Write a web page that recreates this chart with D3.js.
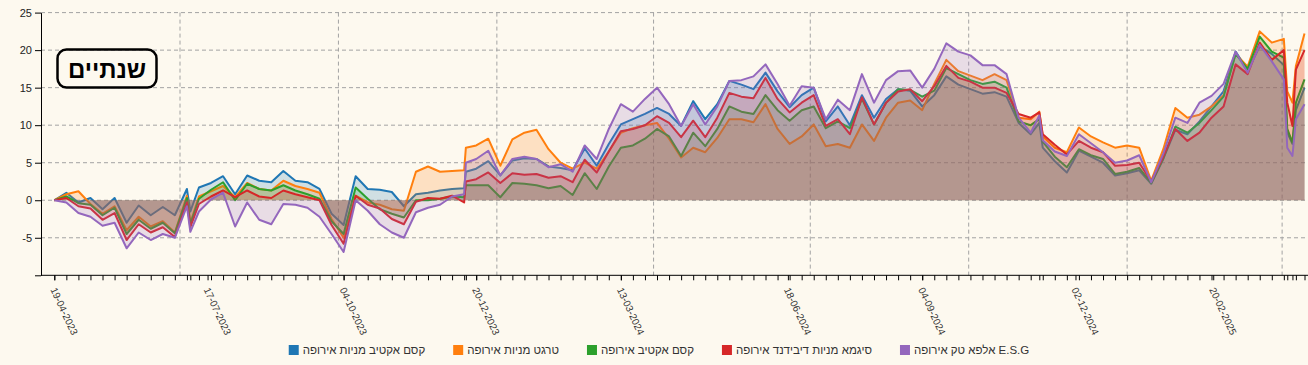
<!DOCTYPE html>
<html><head><meta charset="utf-8">
<script src="https://cdn.jsdelivr.net/npm/d3@7"></script>
<style>
html,body{margin:0;padding:0;background:#fdf9ef;}
svg{display:block;font-family:"Liberation Sans",Arial,sans-serif;}
</style></head><body>
<svg id="chart" width="1308" height="365"></svg>
<script>
const dates = [
"2023-04-19","2023-04-26","2023-05-03","2023-05-10","2023-05-17","2023-05-24","2023-05-31","2023-06-07","2023-06-14","2023-06-21",
"2023-06-28","2023-07-05","2023-07-07","2023-07-12","2023-07-19","2023-07-26","2023-08-02","2023-08-09","2023-08-16","2023-08-23",
"2023-08-30","2023-09-06","2023-09-13","2023-09-20","2023-09-27","2023-10-04","2023-10-11","2023-10-18","2023-10-25","2023-11-01",
"2023-11-08","2023-11-15","2023-11-22","2023-11-29","2023-12-06","2023-12-13","2023-12-14","2023-12-20","2023-12-27","2024-01-03",
"2024-01-10","2024-01-17","2024-01-24","2024-01-31","2024-02-07","2024-02-14","2024-02-21","2024-02-28","2024-03-06","2024-03-13",
"2024-03-20","2024-03-27","2024-04-03","2024-04-10","2024-04-17","2024-04-24","2024-05-01","2024-05-08","2024-05-15","2024-05-22",
"2024-05-29","2024-06-05","2024-06-12","2024-06-19","2024-06-26","2024-07-03","2024-07-10","2024-07-17","2024-07-24","2024-07-31",
"2024-08-07","2024-08-14","2024-08-21","2024-08-28","2024-09-04","2024-09-11","2024-09-18","2024-09-25","2024-10-02","2024-10-09",
"2024-10-16","2024-10-23","2024-10-30","2024-11-06","2024-11-11","2024-11-13","2024-11-20","2024-11-27","2024-12-04","2024-12-11",
"2024-12-18","2024-12-25","2025-01-01","2025-01-08","2025-01-15","2025-01-22","2025-01-29","2025-02-05","2025-02-12","2025-02-19",
"2025-02-26","2025-03-05","2025-03-12","2025-03-19","2025-03-26","2025-04-02","2025-04-04","2025-04-07","2025-04-09","2025-04-14"
];

const seriesNames = ["קסם אקטיב מניות אירופה","טרגט מניות אירופה","קסם אקטיב אירופה","סיגמא מניות דיבידנד אירופה","אלפא טק אירופה E.S.G"];
const seriesColors = ["#1f77b4","#ff7f0e","#2ca02c","#d62728","#9467bd"];

const kasemActiveEquity = [
0,1.0,-0.3,0.3,-1.2,0.3,-3.0,-0.7,-2.0,-0.9,
-2.0,1.5,-1.5,1.7,2.3,3.2,0.8,3.3,2.6,2.4,
3.9,2.6,2.4,1.5,-1.8,-3.3,3.2,1.5,1.4,1.1,
-0.8,0.8,1.0,1.3,1.5,1.6,3.8,4.2,5.2,3.3,
5.3,5.6,5.5,4.5,4.3,4.0,6.9,4.6,7.5,10.1,
10.8,11.5,12.3,11.5,9.9,13.2,10.8,12.8,15.9,15.4,
14.8,17.0,14.5,12.4,14.0,15.0,10.5,12.5,10.0,14.0,
11.0,13.5,14.8,14.6,12.5,14.0,16.5,15.4,14.8,14.2,
14.4,13.8,10.3,8.8,10.3,7.0,5.2,3.7,6.6,5.8,
5.0,3.3,3.6,4.0,2.2,5.5,9.4,8.8,10.5,12.5,
14.5,19.8,17.3,20.5,19.5,18.0,9.0,7.5,12.0,15.0
];
const targetEquity = [
0,0.8,1.2,-0.5,-1.8,-0.8,-4.0,-2.2,-3.5,-2.8,
-4.3,0.6,-3.0,0.5,1.2,1.9,0.4,2.3,1.5,1.3,
2.6,1.9,1.5,1.0,-2.5,-5.0,0.6,-0.3,-0.6,-1.2,
-1.4,3.8,4.5,3.8,3.9,4.0,7.0,7.3,8.2,4.6,
8.1,9.0,9.4,6.8,5.0,4.2,5.0,4.2,6.5,9.0,
9.6,10.0,10.3,8.2,5.7,7.0,6.4,8.3,10.8,10.8,
10.4,12.8,9.5,7.5,8.5,10.1,7.2,7.5,7.0,10.1,
7.9,11.0,13.0,13.3,12.0,15.5,18.7,17.2,16.6,16.0,
16.8,16.0,11.0,10.8,11.8,8.5,7.0,6.4,9.7,8.5,
7.7,7.0,7.3,7.0,2.6,6.8,12.3,11.0,11.4,12.5,
14.0,19.5,17.8,22.5,21.0,21.5,14.5,13.0,17.9,22.2
];
const kasemActive = [
0,0.5,-0.4,-0.6,-2.0,-1.0,-4.5,-2.6,-3.8,-3.0,
-4.4,0.3,-3.2,0.2,1.4,2.4,0.0,2.2,1.5,1.3,
2.0,1.3,0.8,0.2,-2.8,-4.5,1.7,0.2,-1.2,-1.8,
-2.3,0.0,0.0,0.2,0.5,0.4,2.0,2.0,2.0,0.4,
2.3,2.2,2.0,1.6,1.9,0.7,3.6,1.5,4.5,7.0,
7.3,8.2,9.5,8.5,5.9,9.0,7.2,9.5,12.5,11.8,
11.5,14.0,12.0,10.6,12.0,12.5,9.6,10.5,9.6,13.5,
10.1,13.0,14.8,14.7,13.8,14.6,17.6,16.8,16.0,15.5,
15.8,15.0,10.5,10.0,10.8,7.8,5.8,4.4,6.8,6.0,
5.5,3.5,3.8,4.3,2.3,5.6,9.8,9.0,10.3,12.0,
13.8,19.5,17.5,21.8,19.8,19.0,9.5,7.7,13.0,16.1
];
const sigmaDividend = [
0,0.3,-0.8,-1.1,-2.6,-1.7,-5.3,-3.2,-4.3,-3.6,
-4.9,-0.3,-3.6,-0.5,0.5,1.3,0.4,1.3,0.5,0.3,
1.3,0.8,0.4,0.0,-3.3,-5.8,0.6,-0.6,-1.1,-2.5,
-3.2,-0.2,0.3,0.2,0.6,-0.3,2.5,2.8,3.7,2.3,
3.6,3.4,3.5,3.0,3.2,2.4,5.4,3.7,6.5,9.2,
9.5,10.0,11.2,10.3,8.4,10.6,8.4,11.0,14.3,13.8,
13.6,16.3,13.5,11.7,13.0,14.0,9.9,10.8,8.8,13.7,
10.1,13.0,14.5,14.8,13.2,15.2,17.9,16.3,15.8,15.0,
15.0,14.3,11.5,11.0,11.7,8.8,7.4,6.1,7.9,7.0,
6.4,4.6,4.7,5.0,2.5,5.8,9.5,7.9,9.0,11.0,
12.5,18.1,16.8,21.0,18.7,20.0,13.0,9.9,17.4,20.0
];
const alphaTechESG = [
0,-0.3,-1.7,-2.2,-3.4,-3.0,-6.4,-4.3,-5.3,-4.5,
-5.0,-0.8,-4.2,-1.5,0.1,1.0,-3.5,-0.3,-2.6,-3.2,
-0.5,-0.6,-1.0,-2.2,-4.5,-6.9,0.0,-1.4,-3.2,-4.3,
-5.0,-1.6,-1.0,-0.6,0.5,0.8,5.0,5.5,6.6,3.3,
5.5,5.8,5.5,4.4,4.8,3.8,7.3,5.5,9.5,12.8,
11.8,13.5,15.0,12.8,9.9,12.8,10.1,12.5,15.9,16.0,
16.5,18.1,15.5,12.6,15.2,15.0,10.8,13.4,12.0,16.8,
13.0,16.0,17.2,17.3,15.0,17.5,20.9,19.8,19.3,18.0,
18.0,16.8,11.0,9.0,11.3,8.0,6.5,5.9,8.8,7.6,
6.4,5.0,5.3,6.0,2.4,6.2,11.0,10.3,13.0,13.9,
15.5,19.8,17.0,20.7,18.5,16.1,7.0,5.9,10.8,12.8
];

const labelDates = ["2023-04-19","2023-07-17","2023-10-04","2023-12-20","2024-03-13","2024-06-18","2024-09-04","2024-12-02","2025-02-20"];
const yTicks = [-10,-5,0,5,10,15,20,25];
const titleText = "שנתיים";

const allSeries = [kasemActiveEquity, targetEquity, kasemActive, sigmaDividend, alphaTechESG];

const parse = d3.timeParse("%Y-%m-%d");
const fmt = d3.timeFormat("%d-%m-%Y");
const dateObjs = dates.map(parse);

const svg = d3.select("#chart");
const W = 1308, H = 365;
const plotLeft = 41, plotRight = 1308, plotTop = 12.6, plotBottom = 275.3;

const x = d3.scaleTime().domain([dateObjs[0], dateObjs[dateObjs.length-1]]).range([54.3, 1304.5]);
const y = d3.scaleLinear().domain([-10, 25]).range([plotBottom, plotTop]);

// background
svg.append("rect").attr("width", W).attr("height", H).attr("fill", "#fdf9ef");

// grid
const grid = svg.append("g").attr("stroke", "#a3a3a3").attr("stroke-dasharray", "4,3").attr("stroke-width", 1);
yTicks.filter(v => v > -10).forEach(v => {
  grid.append("line").attr("x1", plotLeft).attr("x2", plotRight).attr("y1", y(v)).attr("y2", y(v));
});
x.ticks(d3.timeMonth.every(3)).forEach(d => {
  grid.append("line").attr("x1", x(d)).attr("x2", x(d)).attr("y1", plotTop).attr("y2", plotBottom);
});

// series
allSeries.forEach((vals, i) => {
  const data = vals.map((v, j) => ({d: dateObjs[j], v}));
  const area = d3.area().x(p => x(p.d)).y0(y(0)).y1(p => y(p.v));
  const line = d3.line().x(p => x(p.d)).y(p => y(p.v));
  svg.append("path").datum(data).attr("d", area).attr("fill", seriesColors[i]).attr("fill-opacity", 0.2);
  svg.append("path").datum(data).attr("d", line).attr("fill", "none").attr("stroke", seriesColors[i]).attr("stroke-width", 2).attr("stroke-linejoin", "round");
});

// y axis
const yAxis = d3.axisLeft(y).tickValues(yTicks).tickSize(6).tickSizeOuter(0).tickFormat(d => d === -10 ? "" : String(d));
const gy = svg.append("g").attr("transform", `translate(${plotLeft},0)`).call(yAxis);
gy.selectAll("text").attr("font-size", 11).attr("fill", "#222").attr("font-family", "Liberation Sans, Arial, sans-serif");
gy.select(".domain").attr("stroke", "#000");
gy.selectAll(".tick line").attr("stroke", "#000");

// x axis line
svg.append("line").attr("x1", plotLeft).attr("x2", plotRight).attr("y1", plotBottom).attr("y2", plotBottom).attr("stroke", "#000");
// minor ticks at every data date
const labelObjs = labelDates.map(parse);
const xMinor = d3.axisBottom(x).tickValues(dateObjs.concat(labelObjs)).tickSize(5).tickSizeOuter(0).tickFormat("");
const gx = svg.append("g").attr("transform", `translate(0,${plotBottom})`).call(xMinor);
gx.select(".domain").remove();
gx.selectAll(".tick line").attr("stroke", "#000");
// labels
svg.append("g").selectAll("text").data(labelObjs).join("text")
  .attr("transform", d => `translate(${x(d) - 1},288) rotate(65)`)
  .attr("dy", "0.35em")
  .attr("text-anchor", "start")
  .attr("font-size", 10)
  .attr("fill", "#333")
  .text(d => fmt(d));

// title box
const tb = svg.append("g");
tb.append("rect").attr("x", 57.5).attr("y", 49.5).attr("width", 99).attr("height", 38).attr("rx", 9)
  .attr("fill", "none").attr("stroke", "#000").attr("stroke-width", 2.5);
tb.append("text").attr("x", 107).attr("y", 69).attr("text-anchor", "middle").attr("dominant-baseline", "central")
  .attr("font-size", 24).attr("font-weight", "bold").attr("fill", "#000").text(titleText);

// legend
const lg = svg.append("g");
const items = [];
let cx = 0;
seriesNames.forEach((name, i) => {
  const g = lg.append("g");
  g.append("rect").attr("x", 0).attr("y", -5).attr("width", 10).attr("height", 10).attr("fill", seriesColors[i]);
  const t = g.append("text").attr("x", 14).attr("y", 0).attr("dy", "0.35em").attr("font-size", 11.5).attr("fill", "#333").text(name);
  const w = 14 + t.node().getComputedTextLength();
  g.attr("transform", `translate(${cx},0)`);
  cx += w + 28;
});
const totalW = cx - 28;
lg.attr("transform", `translate(${659 - totalW/2},350)`);
</script>
</body></html>
